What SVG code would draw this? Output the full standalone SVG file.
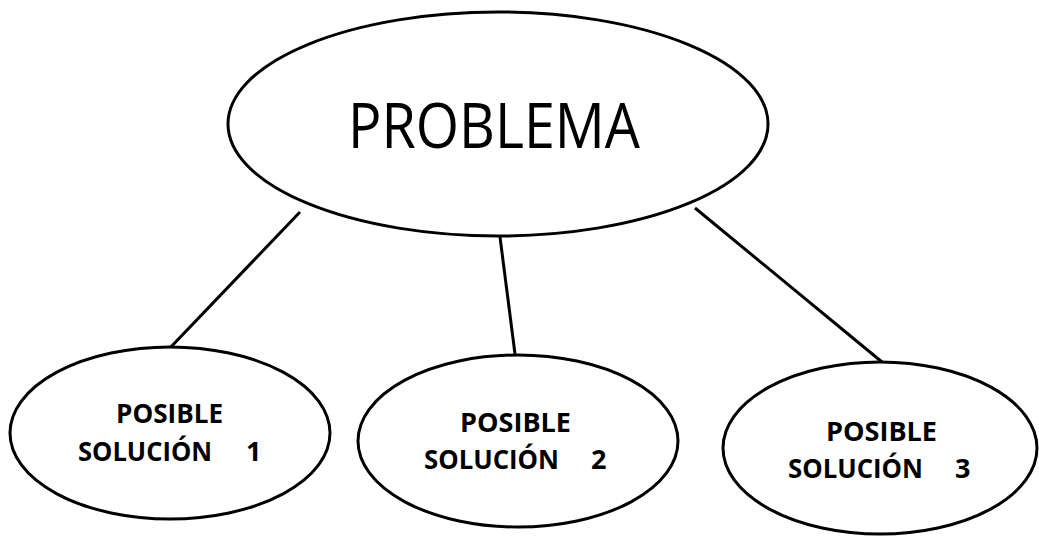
<svg xmlns="http://www.w3.org/2000/svg" width="1039" height="540" viewBox="0 0 1039 540">
<style>
.node ellipse{fill:#fff;stroke:#000;stroke-width:3}
.conn line{stroke:#000;stroke-width:3}
.big{font-family:"Open Sans","Liberation Sans",sans-serif;font-size:63px;fill:#000}
.lbl{font-family:"Open Sans","Liberation Sans",sans-serif;font-size:27px;font-weight:bold;fill:#000}
</style>
<rect width="1039" height="540" fill="#fff"/>
<g id="connectors" class="conn">
<line x1="300" y1="212" x2="168" y2="350"/>
<line x1="500" y1="237" x2="515" y2="354"/>
<line x1="695" y1="208" x2="882" y2="362"/>
</g>
<g id="problema" class="node">
<ellipse cx="498" cy="124" rx="270" ry="112"/>
<text class="big" x="348" y="148" textLength="292" lengthAdjust="spacingAndGlyphs">PROBLEMA</text>
</g>
<g id="solucion1" class="node">
<ellipse cx="170" cy="433" rx="160" ry="86"/>
<text class="lbl" x="116" y="423" textLength="107" lengthAdjust="spacingAndGlyphs">POSIBLE</text>
<text class="lbl" y="461"><tspan x="78" textLength="134" lengthAdjust="spacingAndGlyphs">SOLUCIÓN</tspan><tspan x="246">1</tspan></text>
</g>
<g id="solucion2" class="node">
<ellipse cx="518" cy="441" rx="160" ry="86"/>
<text class="lbl" x="460" y="432" textLength="111" lengthAdjust="spacingAndGlyphs">POSIBLE</text>
<text class="lbl" y="469"><tspan x="424" textLength="135" lengthAdjust="spacingAndGlyphs">SOLUCIÓN</tspan><tspan x="591">2</tspan></text>
</g>
<g id="solucion3" class="node">
<ellipse cx="880" cy="448" rx="157" ry="86"/>
<text class="lbl" x="826" y="441" textLength="111" lengthAdjust="spacingAndGlyphs">POSIBLE</text>
<text class="lbl" y="478"><tspan x="788" textLength="135" lengthAdjust="spacingAndGlyphs">SOLUCIÓN</tspan><tspan x="955">3</tspan></text>
</g>
</svg>
